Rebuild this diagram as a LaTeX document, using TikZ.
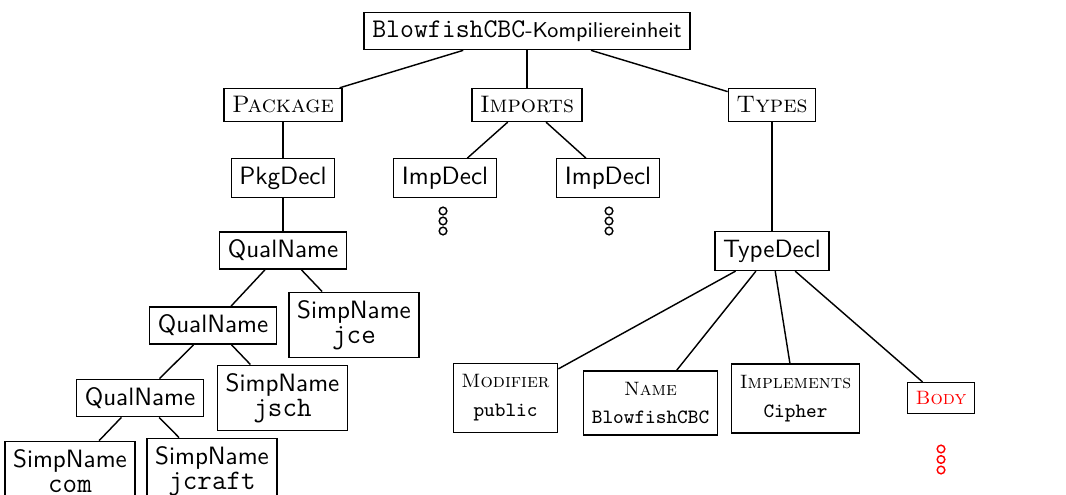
\documentclass[tikz,border=0pt]{standalone}
\usepackage{fontspec}
\begin{document}
\begin{tikzpicture}[x=0.4184pt,y=-0.4184pt,
  every node/.style={line width=0.6pt},
  box/.style={draw, rectangle, inner sep=3.4pt, align=center},
  sf/.style={box, font=\fontsize{10.5}{12}\sffamily},
  sc/.style={box, font=\fontsize{10}{12}\rmfamily\scshape},
  twoline/.style={box, font=\fontsize{10.5}{11.4}\sffamily},
  leaf/.style={box, inner ysep=4.6pt, font=\fontsize{8.1}{10.9}\rmfamily\scshape},
  dotc/.style={draw, circle, minimum size=3.2pt, inner sep=0pt, line width=0.6pt},
  edge/.style={line width=0.6pt}]
\useasboundingbox (0,0) rectangle (1066,495);

% root and first level
\node[box] (root) at (527,31) {{\fontsize{11.3}{13}\ttfamily BlowfishCBC}{\fontsize{9}{13}\sffamily -Kompiliereinheit}};
\node[sc] (pack) at (283,105) {Package};
\node[sc] (imps) at (527,105) {Imports};
\node[sc] (types) at (772,105) {Types};

% declarations
\node[sf] (pkgdecl) at (283,178) {PkgDecl};
\node[sf] (imp1) at (445,178) {ImpDecl};
\node[sf] (imp2) at (608,178) {ImpDecl};
\node[sf] (qual1) at (283,250.5) {QualName};
\node[sf] (typedecl) at (772,251) {TypeDecl};

% qualified name chain
\node[sf] (qual2) at (213,325.5) {QualName};
\node[twoline] (jce) at (354,325) {SimpName\\[-1pt]{\fontsize{11.8}{13}\ttfamily jce}};
\node[sf] (qual3) at (140,398) {QualName};
\node[twoline] (jsch) at (282.5,398) {SimpName\\[-1pt]{\fontsize{11.8}{13}\ttfamily jsch}};
\node[twoline] (com) at (70,471) {SimpName\\[-1pt]{\fontsize{11.8}{13}\ttfamily com}};
\node[twoline] (jcraft) at (212,471) {SimpName\\[-1pt]{\fontsize{11.8}{13}\ttfamily jcraft}};

% type declaration parts
\node[leaf] (mod) at (505.5,398) {Modifier\\[1.2pt]{\fontsize{8.5}{10.9}\normalfont\ttfamily public}};
\node[leaf] (name) at (650.5,403) {Name\\[1.2pt]{\fontsize{8.5}{10.9}\normalfont\ttfamily BlowfishCBC}};
\node[leaf] (impl) at (795.5,398.5) {Implements\\[1.2pt]{\fontsize{8.5}{10.9}\normalfont\ttfamily Cipher}};
\node[leaf, inner ysep=3.6pt, text=red] (body) at (941,398) {Body};

% elided subtrees
\foreach \n/\x/\y/\c in {ia/443/211/black, ib/443/221/black, ic/443/231/black,
                         ja/609/211/black, jb/609/221/black, jc/609/231/black,
                         ba/941/449/red, bb/941/459.5/red, bc/941/470/red}
  \node[dotc, draw=\c] (\n) at (\x,\y) {};

% edges
\draw[edge] (root) -- (pack);
\draw[edge] (root) -- (imps);
\draw[edge] (root) -- (types);
\draw[edge] (pack) -- (pkgdecl);
\draw[edge] (imps) -- (imp1);
\draw[edge] (imps) -- (imp2);
\draw[edge] (types) -- (typedecl);
\draw[edge] (pkgdecl) -- (qual1);
\draw[edge] (qual1) -- (qual2);
\draw[edge] (qual1) -- (jce);
\draw[edge] (qual2) -- (qual3);
\draw[edge] (qual2) -- (jsch);
\draw[edge] (qual3) -- (com);
\draw[edge] (qual3) -- (jcraft);
\draw[edge] (typedecl) -- (mod);
\draw[edge] (typedecl) -- (name);
\draw[edge] (typedecl) -- (impl);
\draw[edge] (typedecl) -- (body);
\end{tikzpicture}
\end{document}
